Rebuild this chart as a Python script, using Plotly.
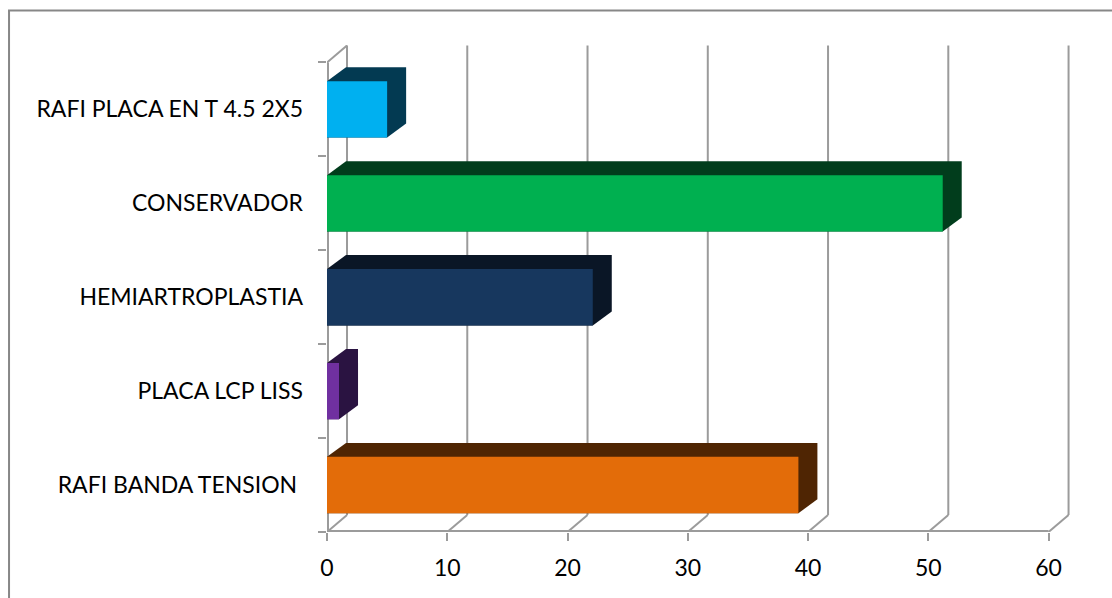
import plotly.graph_objects as go

# ---- data (top to bottom) ----
categories = ["RAFI PLACA EN T 4.5 2X5", "CONSERVADOR", "HEMIARTROPLASTIA",
              "PLACA LCP LISS", "RAFI BANDA TENSION\u00a0"]
values = [5, 51.2, 22.1, 1, 39.2]
x_ticks = [0, 10, 20, 30, 40, 50, 60]

# ---- styles ----
front_colors = ["#00B0F0", "#00B050", "#17375E", "#7030A0", "#E36C09"]
side_colors = ["#033A52", "#013D1C", "#0A1626", "#2A1341", "#4F2503"]
GRID = "#9B9B9B"
FONT = dict(family="Lato", size=23, color="#000000")

order = categories[::-1]          # plotly draws categories bottom -> top
dxg, dyg = 1.664, 0.181           # depth of walls/floor (data units)
dxb, dyb = 1.58, 0.149            # depth of bars (data units)
half = 0.3                        # half bar thickness
ybot = -0.5
ytop = len(categories) - 0.5

shapes = []
# back wall vertical grid lines + floor diagonals
for k in x_ticks:
    shapes.append(dict(type="line", xref="x", yref="y", x0=k + dxg, x1=k + dxg,
                       y0=ybot + dyg, y1=ytop + dyg,
                       line=dict(color=GRID, width=2), layer="below"))
    shapes.append(dict(type="line", xref="x", yref="y", x0=k, x1=k + dxg,
                       y0=ybot, y1=ybot + dyg,
                       line=dict(color=GRID, width=2), layer="below"))
# left wall front edge + top diagonal
shapes.append(dict(type="line", xref="x", yref="y", x0=0, x1=0, y0=ybot, y1=ytop,
                   line=dict(color=GRID, width=4), layer="below"))
shapes.append(dict(type="line", xref="x", yref="y", x0=0, x1=dxg, y0=ytop, y1=ytop + dyg,
                   line=dict(color=GRID, width=2), layer="below"))
# floor front edge
shapes.append(dict(type="line", xref="x", yref="y", x0=0, x1=x_ticks[-1], y0=ybot, y1=ybot,
                   line=dict(color=GRID, width=4), layer="below"))

# bar extrusions (top + side faces)
for cat, v, sc in zip(categories, values, side_colors):
    i = order.index(cat)
    yb, yt = i - half, i + half
    path = (f"M 0,{yb} L 0,{yt} L {dxb},{yt + dyb} L {v + dxb},{yt + dyb} "
            f"L {v + dxb},{yb + dyb} L {v},{yb} Z")
    shapes.append(dict(type="path", xref="x", yref="y", path=path,
                       fillcolor=sc, line=dict(width=0), layer="below"))

# chart border
shapes.append(dict(type="rect", xref="paper", yref="paper",
                   x0=-0.4268, x1=1.08, y0=-0.2, y1=1.0709,
                   line=dict(color="#878787", width=2), layer="above"))

fig = go.Figure()
fig.add_trace(go.Bar(y=categories, x=values, orientation="h", width=2 * half,
                     marker=dict(color=front_colors, line=dict(width=0)),
                     hoverinfo="skip"))

fig.update_layout(
    width=1112, height=598,
    margin=dict(l=327, r=40, t=45, b=66, pad=0),
    paper_bgcolor="white", plot_bgcolor="white",
    showlegend=False,
    shapes=shapes,
    xaxis=dict(range=[0, 61.95], tickmode="array", tickvals=x_ticks,
               ticks="outside", ticklen=8, tickwidth=2, tickcolor=GRID,
               showgrid=False, zeroline=False, showline=False,
               tickfont=FONT, ticklabelstandoff=7),
    yaxis=dict(type="category", categoryorder="array", categoryarray=order,
               range=[-0.5, 4.686], tickson="boundaries",
               ticks="outside", ticklen=8, tickwidth=2, tickcolor=GRID,
               showgrid=False, zeroline=False, showline=False,
               tickfont=FONT, ticklabelstandoff=23),
)

fig.write_html("out.html", config={"displayModeBar": False})
